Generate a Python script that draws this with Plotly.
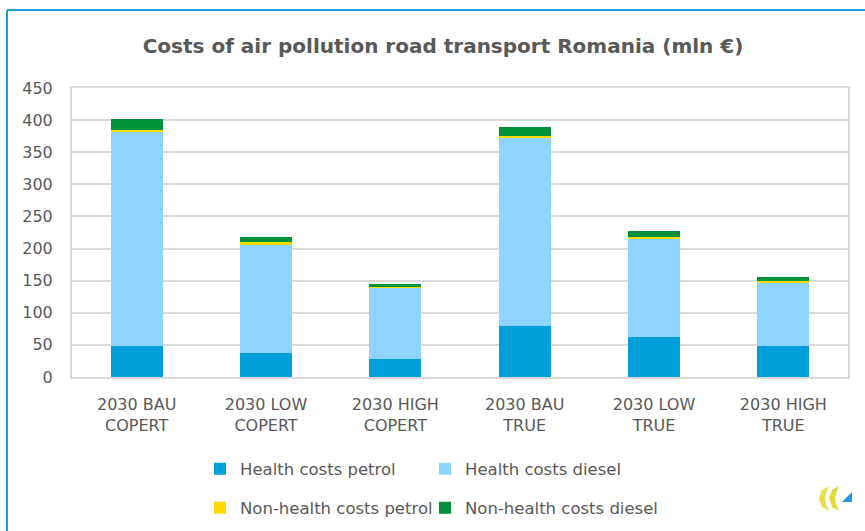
import plotly.graph_objects as go

categories = ["2030 BAU<br>COPERT", "2030 LOW<br>COPERT", "2030 HIGH<br>COPERT",
              "2030 BAU<br>TRUE", "2030 LOW<br>TRUE", "2030 HIGH<br>TRUE"]
health_petrol = [48, 37, 28, 79, 63, 48]
health_diesel = [334, 170, 111, 294, 152, 99]
nonhealth_petrol = [3, 3, 1, 3, 3, 3]
nonhealth_diesel = [16, 8, 5, 14, 9, 5]
y_ticks = [0, 50, 100, 150, 200, 250, 300, 350, 400, 450]

W, H = 865, 531
L, R, T, B = 72, 17, 88, 154
pw = W - L - R
ph = H - T - B


def px(x):
    return (x - L) / pw


def py(y):
    return (H - B - y) / ph


def cx(x):
    return x / W


def cy(y):
    return 1 - y / H


# name, values, colour, legend id, legend position (x, y in px)
series = [
    ("Health costs petrol", health_petrol, "#009FDA", "legend", (200, 469)),
    ("Health costs diesel", health_diesel, "#8FD3FF", "legend2", (425, 469)),
    ("Non-health costs petrol", nonhealth_petrol, "#FFDA00", "legend3", (200, 508)),
    ("Non-health costs diesel", nonhealth_diesel, "#00913A", "legend4", (425, 508)),
]

FONT = "DejaVu Sans"
GREY = "#595959"

fig = go.Figure()
legends = {}
for name, vals, col, lg, (lx, ly) in series:
    fig.add_trace(go.Bar(x=categories, y=vals, name=name, marker_color=col,
                         marker_line_width=0, legend=lg))
    legends[lg] = dict(orientation="h", xref="container", yref="container", x=cx(lx),
                       xanchor="left", y=cy(ly), yanchor="middle",
                       bgcolor="rgba(0,0,0,0)",
                       font=dict(size=16.5, color=GREY, family=FONT),
                       itemclick=False, itemdoubleclick=False)


def path(points):
    return "M " + " L ".join(f"{px(x):.5f},{py(y):.5f}" for x, y in points) + " Z"


shapes = [
    dict(type="line", xref="paper", yref="paper", x0=px(7), x1=px(870), y0=py(10), y1=py(10),
         line=dict(color="#1BA1DA", width=2)),
    dict(type="line", xref="paper", yref="paper", x0=px(7), x1=px(7), y0=py(10), y1=py(535),
         line=dict(color="#1BA1DA", width=2)),
    # small logo
    dict(type="path", xref="paper", yref="paper",
         path=path([(829, 486), (822, 490), (819, 498), (822, 507), (829, 511), (826, 504),
                    (825, 498), (827, 491)]),
         fillcolor="#E8E04A", line=dict(width=0)),
    dict(type="path", xref="paper", yref="paper",
         path=path([(839, 486), (832, 490), (829, 498), (832, 507), (839, 511), (836, 504),
                    (835, 498), (837, 491)]),
         fillcolor="#E3DA3A", line=dict(width=0)),
    dict(type="path", xref="paper", yref="paper",
         path=path([(852, 492), (852, 502), (842, 502)]),
         fillcolor="#1E9AD6", line=dict(width=0)),
]

fig.update_layout(
    width=W, height=H,
    margin=dict(l=L, r=R, t=T, b=B, autoexpand=False),
    barmode="stack", bargap=0.6,
    paper_bgcolor="white", plot_bgcolor="white",
    font=dict(family=FONT, color=GREY, size=15),
    title=dict(text="<b>Costs of air pollution road transport Romania (mln €)</b>",
               x=cx(443), xref="container", xanchor="center", y=cy(46), yref="container",
               yanchor="middle", font=dict(size=20, color=GREY, family=FONT)),
    xaxis=dict(showgrid=False, showline=True, linecolor="#D9D9D9", linewidth=2, mirror=True,
               ticks="", tickfont=dict(size=16, color=GREY, family=FONT), ticklabelstandoff=12,
               automargin=False),
    yaxis=dict(range=[0, 450], tickvals=y_ticks, showgrid=True, gridcolor="#D9D9D9", gridwidth=2,
               showline=True, linecolor="#D9D9D9", linewidth=2, mirror=True, zeroline=False,
               ticks="", tickfont=dict(size=16, color=GREY, family=FONT), ticklabelstandoff=14,
               automargin=False),
    showlegend=True,
    shapes=shapes,
    **legends,
)

fig.write_html("out.html", config={"displayModeBar": False},
               post_script="document.body.style.margin='0';")
